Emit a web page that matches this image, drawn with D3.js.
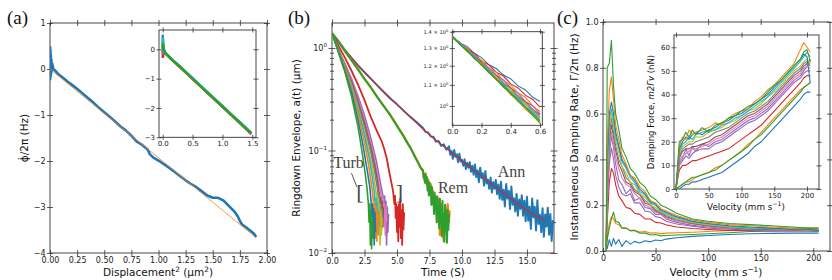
<!DOCTYPE html>
<html>
<head>
<meta charset="utf-8">
<script src="https://cdn.jsdelivr.net/npm/d3@7"></script>
<style>
  body { margin: 0; background: #fff; }
  svg { display: block; }
</style>
</head>
<body>
<script>
// ---------- data ----------

// (a) frequency shift vs displacement^2
const dispBlue = [[0,0.5],[0.002,-0.22],[0.004,0.42],[0.006,-0.15],[0.008,0.3],[0.01,-0.1],[0.013,0.2],[0.016,-0.05],
  [0.02,0.12],[0.03,0.0],[0.05,-0.04],[0.08,-0.12],[0.12,-0.19],[0.16,-0.27],[0.2,-0.34],[0.25,-0.43],[0.3,-0.53],
  [0.35,-0.63],[0.4,-0.73],[0.45,-0.84],[0.5,-0.94],[0.55,-1.04],[0.6,-1.14],[0.65,-1.25],[0.7,-1.34],[0.75,-1.45],
  [0.8,-1.58],[0.85,-1.65],[0.9,-1.75],[0.92,-1.85],[0.95,-1.92],[1.0,-1.99],[1.05,-2.07],[1.1,-2.15],[1.15,-2.24],
  [1.2,-2.33],[1.25,-2.42],[1.3,-2.5],[1.35,-2.57],[1.4,-2.66],[1.45,-2.75],[1.5,-2.8],[1.55,-2.8],[1.6,-2.86],
  [1.65,-2.98],[1.7,-3.1],[1.73,-3.2],[1.75,-3.3],[1.77,-3.38],[1.8,-3.43],[1.85,-3.52],[1.88,-3.58],[1.9,-3.65]];
const dispFit = [[0,0],[1.89,-3.65]];

const insetDispX = [0,0.004,0.008,0.012,0.02,0.04,0.08,0.15,0.3,0.5,0.75,1.0,1.25,1.4,1.48];
const insetDispY = {
  blue:   [0.5,-0.1,0.35,0.1,0.02,-0.1,-0.19,-0.33,-0.6,-0.98,-1.46,-1.93,-2.4,-2.68,-2.84],
  orange: [0.2,-0.2,0.15,-0.05,-0.06,-0.14,-0.22,-0.36,-0.64,-1.02,-1.5,-1.97,-2.44,-2.73,-2.88],
  red:    [-0.3,0.1,-0.25,-0.1,-0.1,-0.15,-0.21,-0.35,-0.63,-1.01,-1.49,-1.96,-2.43,-2.72,-2.9],
  purple: [0.3,-0.15,0.2,0.0,-0.05,-0.12,-0.2,-0.34,-0.62,-1.0,-1.48,-1.95,-2.42,-2.71,-2.86],
  cyan:   [0.4,0.0,0.25,0.05,-0.03,-0.11,-0.19,-0.33,-0.61,-0.99,-1.47,-1.94,-2.41,-2.7,-2.85],
  green:  [0.2,0.0,0.15,0.05,-0.04,-0.12,-0.2,-0.34,-0.62,-1.0,-1.48,-1.95,-2.42,-2.71,-2.85]
};

// (b) ringdown envelopes [time s, amplitude um]
const ringAnn = [[0,1.40],[0.5,1.17],[1,0.955],[1.5,0.80],[2,0.676],[2.5,0.58],[3,0.50],[3.5,0.43],[4,0.37],[4.5,0.32],
  [5,0.282],[5.5,0.245],[6,0.214],[6.5,0.19],[7.0,0.166],[7.2,0.152],[7.4,0.150],[7.6,0.137],[7.8,0.136],[8.0,0.122],
  [8.2,0.124],[8.4,0.111],[8.6,0.115],[8.8,0.102],[9.0,0.110],[9.1,0.091],[9.2,0.099],[9.3,0.083],[9.4,0.101],
  [9.5,0.087],[9.6,0.092],[9.7,0.077],[9.8,0.093],[9.9,0.078],[10.0,0.081],[10.1,0.071],[10.2,0.082],[10.3,0.066],
  [10.4,0.076],[10.5,0.068],[10.6,0.077],[10.7,0.062],[10.8,0.071],[10.9,0.058],[11.0,0.073],[11.1,0.055],[11.2,0.064],
  [11.3,0.049],[11.4,0.068],[11.5,0.054],[11.6,0.060],[11.7,0.0455],[11.8,0.063],[11.9,0.0476],[12.0,0.052],[12.1,0.0423],
  [12.2,0.0545],[12.3,0.0389],[12.4,0.0492],[12.5,0.0423],[12.6,0.0515],[12.7,0.0375],[12.8,0.0466],[12.9,0.0339],
  [13.0,0.0497],[13.1,0.033],[13.2,0.0415],[13.3,0.0284],[13.4,0.047],[13.5,0.034],[13.6,0.0404],[13.7,0.0269],
  [13.8,0.0445],[13.9,0.0296],[14.0,0.0342],[14.1,0.0254],[14.2,0.0377],[14.3,0.0231],[14.4,0.0333],[14.5,0.0269],
  [14.6,0.0366],[14.7,0.0231],[14.8,0.0324],[14.9,0.0204],[15.0,0.0353],[15.1,0.0207],[15.2,0.0283],[15.3,0.0172],
  [15.4,0.034],[15.5,0.0223],[15.6,0.0283],[15.7,0.0166],[15.8,0.0328],[15.9,0.0192],[16.0,0.0236],[16.1,0.016],
  [16.2,0.0274],[16.3,0.0144],[16.4,0.0238],[16.5,0.0181],[16.6,0.0277],[16.7,0.0151],[16.8,0.024],[16.9,0.0131],[17.0,0.0209]];
const ringAnnFit = [[0,1.40],[1,0.955],[2,0.676],[3,0.50],[4,0.37],[5,0.282],[6,0.214],[7,0.162],[8,0.126],[9,0.1],
  [10,0.079],[11,0.063],[12,0.05],[13,0.04],[14,0.032],[15,0.026],[16,0.022],[16.4,0.0205]];
const ringRem = [[0,1.4],[0.5,1.15],[1,0.93],[1.5,0.76],[2,0.62],[2.5,0.50],[3,0.41],[3.5,0.33],[4,0.27],[4.5,0.22],
  [5,0.174],[5.5,0.138],[5.8,0.118],[6.0,0.108],[6.2,0.097],[6.4,0.086],[6.6,0.077],[6.8,0.068],
  [7.00,0.0646],[7.05,0.0543],[7.10,0.0589],[7.15,0.0484],[7.20,0.0575],[7.25,0.0484],[7.30,0.055],[7.35,0.0407],
  [7.40,0.0495],[7.45,0.0363],[7.50,0.049],[7.55,0.0372],[7.60,0.0442],[7.65,0.0295],[7.70,0.0437],[7.75,0.0305],
  [7.80,0.0355],[7.85,0.024],[7.90,0.0385],[7.95,0.0269],[8.00,0.0339],[8.05,0.020],[8.10,0.0355],[8.15,0.0229],
  [8.20,0.0288],[8.25,0.0174],[8.30,0.0339],[8.35,0.0195],[8.40,0.0269],[8.45,0.0145],[8.50,0.0324],[8.55,0.0174],
  [8.60,0.0237],[8.65,0.0129],[8.70,0.0295],[8.75,0.017],[8.80,0.0254],[8.85,0.0126],[8.90,0.0263],[8.95,0.0168],[9.00,0.024]];
const ringRem2 = [[0,1.4],[0.5,1.15],[1,0.93],[1.5,0.76],[2,0.62],[2.5,0.5],[3,0.41],[3.5,0.33],[4,0.27],[4.5,0.22],
  [5,0.175],[5.5,0.14],[6,0.108],[6.5,0.082],[7,0.062],[7.1,0.052],[7.2,0.06],[7.3,0.046],[7.4,0.052],[7.5,0.038],
  [7.6,0.047],[7.7,0.03],[7.8,0.04],[7.9,0.026],[8.0,0.036],[8.1,0.02],[8.2,0.034],[8.3,0.015],[8.4,0.03],[8.5,0.019],
  [8.6,0.013],[8.7,0.028],[8.8,0.016],[8.9,0.03],[9.0,0.02],[9.05,0.026]];
const ringRed = [[0,1.4],[0.5,1.05],[1,0.8],[1.5,0.6],[2,0.44],[2.5,0.31],[3,0.21],[3.5,0.15],[3.8,0.125],[4.0,0.105],
  [4.2,0.085],[4.4,0.062],[4.55,0.05],[4.7,0.04],[4.8,0.03],[4.85,0.036],[4.9,0.022],[4.95,0.03],[5.0,0.016],
  [5.05,0.028],[5.1,0.013],[5.15,0.03],[5.2,0.018],[5.25,0.034],[5.3,0.014],[5.35,0.026],[5.4,0.012],[5.45,0.03],
  [5.5,0.017],[5.55,0.025]];
const ringTurb = [
  ["purple", [[0,1.4],[0.5,0.96],[1,0.7],[1.5,0.5],[2,0.34],[2.5,0.22],[3,0.13],[3.4,0.08],[3.7,0.05],[3.9,0.037],[4.0,0.03],[4.05,0.036],[4.1,0.02],[4.15,0.032],[4.2,0.012],[4.25,0.028],[4.3,0.016],[4.35,0.024]]],
  ["pink",   [[0,1.4],[0.5,0.96],[1,0.69],[1.5,0.49],[2,0.32],[2.5,0.2],[3,0.115],[3.4,0.068],[3.6,0.05],[3.8,0.036],[3.9,0.028],[3.95,0.034],[4.0,0.018],[4.05,0.03],[4.1,0.015],[4.15,0.028],[4.2,0.02]]],
  ["brown",  [[0,1.4],[0.5,0.95],[1,0.67],[1.5,0.47],[2,0.3],[2.5,0.185],[3,0.105],[3.3,0.07],[3.5,0.05],[3.65,0.037],[3.7,0.03],[3.75,0.035],[3.8,0.02],[3.85,0.032],[3.9,0.018],[3.95,0.028]]],
  ["gray",   [[0,1.4],[0.5,0.95],[1,0.66],[1.5,0.45],[2,0.28],[2.5,0.17],[3,0.095],[3.3,0.06],[3.5,0.042],[3.6,0.032],[3.65,0.036],[3.7,0.02],[3.75,0.03],[3.8,0.017],[3.85,0.027],[3.9,0.02]]],
  ["olive",  [[0,1.4],[0.5,0.94],[1,0.65],[1.5,0.43],[2,0.26],[2.5,0.15],[3,0.08],[3.2,0.057],[3.4,0.038],[3.5,0.028],[3.55,0.034],[3.6,0.016],[3.65,0.03],[3.7,0.012],[3.75,0.026],[3.8,0.015],[3.85,0.022]]],
  ["cyan",   [[0,1.4],[0.5,0.94],[1,0.64],[1.5,0.42],[2,0.25],[2.5,0.14],[2.9,0.08],[3.1,0.055],[3.25,0.04],[3.35,0.028],[3.4,0.034],[3.45,0.018],[3.5,0.03],[3.55,0.015],[3.6,0.026],[3.65,0.018]]],
  ["orange", [[0,1.4],[0.5,0.93],[1,0.63],[1.5,0.4],[2,0.23],[2.5,0.12],[2.8,0.075],[3.0,0.05],[3.15,0.036],[3.25,0.024],[3.3,0.03],[3.35,0.014],[3.4,0.028],[3.45,0.013],[3.5,0.026],[3.55,0.016],[3.6,0.024]]],
  ["blue",   [[0,1.4],[0.5,0.92],[1,0.6],[1.5,0.37],[2,0.2],[2.4,0.11],[2.7,0.065],[2.9,0.045],[3.0,0.033],[3.05,0.022],[3.1,0.03],[3.15,0.014],[3.2,0.027],[3.25,0.012],[3.3,0.025],[3.35,0.016]]],
  ["green",  [[0,1.4],[0.5,0.9],[1,0.58],[1.5,0.34],[2,0.17],[2.3,0.1],[2.55,0.06],[2.7,0.042],[2.8,0.03],[2.85,0.02],[2.9,0.03],[2.95,0.012],[3.0,0.026],[3.05,0.011],[3.1,0.022],[3.15,0.014]]]
];

// (b) inset: early part of every ringdown
const ringInsetT = [0,0.05,0.1,0.15,0.2,0.25,0.3,0.35,0.4,0.45,0.5,0.55,0.6];
const ringInsetA = [
  ["blue",   [1.37,1.33,1.31,1.27,1.245,1.205,1.185,1.15,1.13,1.095,1.075,1.04,1.02]],
  ["red",    [1.36,1.335,1.295,1.27,1.225,1.205,1.165,1.145,1.105,1.085,1.05,1.03,0.995]],
  ["orange", [1.375,1.325,1.3,1.255,1.23,1.185,1.165,1.12,1.1,1.06,1.04,1.0,0.975]],
  ["purple", [1.365,1.335,1.29,1.26,1.215,1.19,1.15,1.125,1.085,1.06,1.02,1.0,0.965]],
  ["brown",  [1.37,1.325,1.295,1.25,1.22,1.175,1.15,1.11,1.085,1.045,1.02,0.985,0.96]],
  ["pink",   [1.37,1.33,1.285,1.255,1.21,1.18,1.14,1.112,1.072,1.048,1.01,0.986,0.95]],
  ["gray",   [1.365,1.33,1.285,1.252,1.21,1.178,1.138,1.108,1.07,1.044,1.006,0.982,0.948]],
  ["olive",  [1.37,1.325,1.29,1.245,1.212,1.17,1.14,1.1,1.073,1.035,1.008,0.972,0.945]],
  ["cyan",   [1.37,1.33,1.283,1.25,1.205,1.174,1.13,1.103,1.062,1.036,0.997,0.973,0.937]],
  ["orange", [1.365,1.325,1.28,1.245,1.2,1.165,1.125,1.092,1.052,1.024,0.985,0.96,0.923]],
  ["green",  [1.37,1.322,1.287,1.24,1.207,1.162,1.132,1.088,1.062,1.02,0.995,0.957,0.928]],
  ["green",  [1.37,1.325,1.283,1.246,1.203,1.17,1.128,1.097,1.058,1.03,0.994,0.966,0.935]]
];

// (c) instantaneous damping rate vs velocity
const dampV = [3,4,6,8,10,12,15,18,22,26,30,35,40,45,50,55,60,70,85,100,120,140,160,180,195,205];
const dampRate = [
  ["blue",   [0.04,0.01,0.05,0.02,0.055,0.03,0.05,0.02,0.045,0.03,0.042,0.035,0.045,0.04,0.048,0.045,0.052,0.058,0.064,0.068,0.072,0.075,0.077,0.078,0.078,0.078]],
  ["orange", [0,0.06,0.12,0.15,0.14,0.12,0.115,0.1,0.1,0.09,0.09,0.083,0.085,0.078,0.08,0.076,0.078,0.08,0.082,0.085,0.09,0.093,0.095,0.097,0.1,0.1]],
  ["green",  [0,0.05,0.1,0.14,0.17,0.13,0.125,0.1,0.1,0.088,0.09,0.078,0.078,0.07,0.072,0.066,0.068,0.07,0.072,0.075,0.08,0.085,0.088,0.09,0.092,0.093]],
  ["red",    [0,0.12,0.3,0.36,0.34,0.29,0.24,0.22,0.19,0.185,0.165,0.16,0.14,0.14,0.125,0.122,0.115,0.105,0.098,0.094,0.09,0.089,0.088,0.088,0.088,0.087]],
  ["purple", [0,0.2,0.38,0.45,0.4,0.33,0.28,0.25,0.24,0.25,0.21,0.21,0.175,0.17,0.15,0.145,0.13,0.118,0.108,0.1,0.095,0.092,0.09,0.088,0.088,0.086]],
  ["purple", [0,0.22,0.42,0.5,0.45,0.38,0.31,0.29,0.25,0.27,0.22,0.23,0.19,0.185,0.16,0.16,0.14,0.125,0.112,0.105,0.098,0.094,0.092,0.09,0.09,0.088]],
  ["pink",   [0,0.25,0.45,0.52,0.47,0.41,0.36,0.32,0.29,0.28,0.25,0.23,0.2,0.19,0.17,0.16,0.145,0.13,0.118,0.108,0.1,0.096,0.093,0.09,0.09,0.088]],
  ["brown",  [0,0.28,0.48,0.55,0.5,0.44,0.38,0.35,0.3,0.29,0.26,0.245,0.21,0.2,0.175,0.165,0.15,0.135,0.12,0.11,0.102,0.097,0.094,0.092,0.09,0.088]],
  ["gray",   [0,0.3,0.5,0.58,0.52,0.46,0.4,0.37,0.32,0.3,0.27,0.25,0.22,0.205,0.18,0.17,0.155,0.138,0.122,0.112,0.104,0.098,0.095,0.092,0.09,0.088]],
  ["olive",  [0,0.3,0.55,0.6,0.55,0.48,0.43,0.37,0.34,0.3,0.29,0.25,0.235,0.2,0.19,0.17,0.16,0.14,0.125,0.115,0.105,0.1,0.097,0.094,0.092,0.09]],
  ["cyan",   [0,0.35,0.58,0.62,0.57,0.5,0.45,0.39,0.36,0.32,0.3,0.26,0.245,0.21,0.2,0.175,0.165,0.145,0.128,0.118,0.108,0.1,0.098,0.095,0.093,0.09]],
  ["blue",   [0,0.4,0.6,0.65,0.6,0.52,0.46,0.4,0.37,0.33,0.31,0.27,0.25,0.215,0.205,0.18,0.17,0.15,0.13,0.12,0.11,0.105,0.1,0.095,0.095,0.09]],
  ["orange", [0,0.45,0.7,0.76,0.66,0.55,0.49,0.42,0.38,0.33,0.32,0.28,0.26,0.22,0.21,0.185,0.175,0.155,0.135,0.125,0.115,0.11,0.105,0.1,0.1,0.095]],
  ["green",  [0,0.8,0.82,0.92,0.72,0.6,0.53,0.45,0.41,0.36,0.34,0.3,0.28,0.24,0.225,0.2,0.19,0.165,0.14,0.13,0.12,0.115,0.11,0.105,0.1,0.1]]
];

// (c) inset: damping force vs velocity
const forceV = [0,5,10,15,20,25,30,40,50,60,70,80,90,100,110,120,130,140,150,160,170,180,190,195,200,205];
const forceN = [
  ["blue",   [0,0,1,2,2,3,3,4,5,6,7,9,11,13,15,18,20,23,26,29,32,35,38,40,41,41]],
  ["orange", [0,1,2,3,3,4,5,6,7,9,10,12,14,16,19,21,24,27,30,33,36,39,42,43,44,45]],
  ["green",  [0,1,2,3,4,5,5,6,7,8,10,12,14,16,18,21,23,26,29,32,35,38,41,43,44,45]],
  ["red",    [0,8,10,10,11,12,12,13,14,15,16,17,19,21,23,25,27,30,33,36,39,42,45,47,48,48]],
  ["purple", [0,10,12,14,13,15,16,17,17,19,20,22,24,26,28,29,31,33,36,39,42,45,47,49,50,50]],
  ["purple", [0,11,13,17,14,18,16,19,18,20,21,23,25,27,29,30,32,34,37,40,43,46,48,50,52,54]],
  ["pink",   [0,12,14,15,16,17,17,18,19,21,22,24,26,28,30,31,33,35,38,41,44,47,49,51,52,51]],
  ["brown",  [0,13,16,17,17,18,18,19,20,22,23,25,27,29,31,32,34,36,39,42,45,48,50,52,53,55]],
  ["gray",   [0,14,17,18,19,19,20,21,22,24,25,26,28,30,32,33,35,37,40,43,46,49,51,53,54,52]],
  ["olive",  [0,15,18,19,20,20,22,22,24,25,26,28,29,31,33,34,36,39,41,44,47,50,52,54,55,53]],
  ["cyan",   [0,16,19,20,22,21,23,24,25,25,27,28,30,31,33,35,37,39,42,45,48,51,54,56,58,56]],
  ["blue",   [0,17,20,22,21,23,24,23,25,26,28,29,31,32,34,36,38,40,43,46,49,52,55,57,56,45]],
  ["orange", [0,18,22,21,25,23,24,25,26,28,27,30,32,33,34,37,39,42,44,47,50,53,59,62,60,58]],
  ["green",  [0,20,21,24,22,25,23,26,24,27,28,30,31,33,35,36,38,41,44,46,49,52,55,58,59,54]]
];

// tick values
const dispTicks = [0,0.25,0.5,0.75,1.0,1.25,1.5,1.75,2.0];
const shiftTicks = [-4,-3,-2,-1,0,1];
const dispInsetTicks = [0,0.5,1.0,1.5];
const shiftInsetTicks = [-3,-2,-1,0];
const timeTicks = [0,2.5,5,7.5,10,12.5,15];
const ampTicks = [0.01,0.1,1];
const timeInsetTicks = [0,0.2,0.4,0.6];
const ampInsetTicks = [1.0,1.1,1.2,1.3,1.4];
const velTicks = [0,50,100,150,200];
const rateTicks = [0,0.2,0.4,0.6,0.8,1.0];
const forceTicks = [0,10,20,30,40,50,60];

// ---------- drawing ----------
const W = 832, H = 280;
const tab = {blue:"#1f77b4", orange:"#ff7f0e", green:"#2ca02c", red:"#d62728", purple:"#9467bd",
  brown:"#8c564b", pink:"#e377c2", gray:"#7f7f7f", olive:"#bcbd22", cyan:"#17becf"};
const SANS = "DejaVu Sans", SERIF = "Liberation Serif";

const svg = d3.select("body").append("svg").attr("width", W).attr("height", H);

function drawAxis(g, orient, scale, vals, fmt, len, fs, pos) {
  const make = {bottom: d3.axisBottom, top: d3.axisTop, left: d3.axisLeft, right: d3.axisRight}[orient];
  const ax = make(scale).tickValues(vals).tickFormat(fmt || (() => "")).tickSizeInner(len).tickSizeOuter(0).tickPadding(1.5);
  const horiz = orient === "bottom" || orient === "top";
  const a = g.append("g").attr("transform", horiz ? `translate(0,${pos})` : `translate(${pos},0)`).call(ax);
  a.select(".domain").remove();
  // ticks straddle the spine
  if (horiz) a.selectAll(".tick line").attr("y1", orient === "bottom" ? -len : len);
  else a.selectAll(".tick line").attr("x1", orient === "left" ? len : -len);
  a.selectAll(".tick line").attr("stroke", "#333").attr("stroke-width", 0.8);
  a.selectAll("text").attr("font-size", fs).attr("font-family", SANS).attr("fill", "#222");
  return a;
}

function frame(g, x, y, xt, yt, xf, yf, len, fs) {
  const [xa, xb] = x.range(), [ya, yb] = y.range();
  g.append("rect").attr("x", xa).attr("y", yb).attr("width", xb - xa).attr("height", ya - yb)
    .attr("fill", "none").attr("stroke", "#333").attr("stroke-width", 0.9);
  return {
    bottom: drawAxis(g, "bottom", x, xt, xf, len, fs, ya),
    top: drawAxis(g, "top", x, xt, null, len, fs, yb),
    left: drawAxis(g, "left", y, yt, yf, len, fs, xa),
    right: drawAxis(g, "right", y, yt, null, len, fs, xb)
  };
}

let clipId = 0;
function clipFor(g, x, y) {
  const id = "clip" + (clipId++);
  const [xa, xb] = x.range(), [ya, yb] = y.range();
  g.append("clipPath").attr("id", id).append("rect")
    .attr("x", xa).attr("y", yb).attr("width", xb - xa).attr("height", ya - yb);
  return g.append("g").attr("clip-path", `url(#${id})`);
}

function addLabel(g, x, y, parts, fs, rotate, family) {
  const t = g.append("text").attr("font-size", fs).attr("font-family", family || SANS).attr("fill", "#111")
    .attr("text-anchor", "middle");
  if (rotate) t.attr("transform", `translate(${x},${y}) rotate(-90)`);
  else t.attr("x", x).attr("y", y);
  parts.forEach(p => {
    if (typeof p === "string") { t.append("tspan").text(p); return; }
    const s = t.append("tspan").text(p.t);
    if (p.sup) s.attr("dy", -fs * 0.4).attr("font-size", fs * 0.7);
    if (p.down) s.attr("dy", fs * 0.4);
    if (p.it) s.attr("font-style", "italic");
  });
  return t;
}

function supTicks(axisG, base, expOf, fs) {
  axisG.selectAll(".tick text").each(function (d) {
    const t = d3.select(this);
    t.text(base(d));
    t.append("tspan").attr("dy", -fs * 0.45).attr("font-size", fs * 0.7).text(expOf(d));
  });
}

// ===== panel (a) =====
const ga = svg.append("g");
const xA = d3.scaleLinear().domain([0, 2]).range([50, 267]);
const yA = d3.scaleLinear().domain([-4, 1]).range([253, 23]);
frame(ga, xA, yA, dispTicks, shiftTicks, d3.format(".2f"), d3.format("d"), 3, 8);
const ca = clipFor(ga, xA, yA);
const lineA = d3.line().x(d => xA(d[0])).y(d => yA(d[1]));
ca.append("path").datum(dispBlue).attr("d", lineA).attr("fill", "none").attr("stroke", tab.blue)
  .attr("stroke-width", 2.6).attr("stroke-linejoin", "round");
ca.append("path").datum(dispFit).attr("d", lineA).attr("fill", "none").attr("stroke", tab.orange)
  .attr("stroke-width", 1).attr("opacity", 0.8);

// inset (a)
const xAi = d3.scaleLinear().domain([-0.062, 1.562]).range([159, 256]);
const yAi = d3.scaleLinear().domain([-3, 0.658]).range([137.3, 30]);
ga.append("rect").attr("x", 159).attr("y", 30).attr("width", 97).attr("height", 107.3).attr("fill", "#fff");
frame(ga, xAi, yAi, dispInsetTicks, shiftInsetTicks, d3.format(".1f"), d3.format("d"), 2.5, 7);
const cai = clipFor(ga, xAi, yAi);
const lineAi = d3.line().x((d, i) => xAi(insetDispX[i])).y(d => yAi(d));
["blue", "orange", "red", "purple", "cyan", "green"].forEach(k => {
  cai.append("path").datum(insetDispY[k]).attr("d", lineAi).attr("fill", "none").attr("stroke", tab[k])
    .attr("stroke-width", k === "green" ? 2.4 : 2.2).attr("stroke-linejoin", "round");
});

addLabel(ga, 158, 276, ["Displacement", {t: "2", sup: true}, {t: " (\u03BCm", down: true}, {t: "2", sup: true}, {t: ")", down: true}], 10.5);
addLabel(ga, 28, 138, ["\u03D5\u0307/2\u03C0 (Hz)"], 10.5, true);
ga.append("text").attr("x", 7).attr("y", 24).attr("font-family", SERIF).attr("font-size", 19).attr("fill", "#111").text("(a)");

// ===== panel (b) =====
const gb = svg.append("g");
const xB = d3.scaleLinear().domain([0, 17.08]).range([332, 554]);
const yB = d3.scaleLog().domain([0.01, 1.754]).range([253, 23]);
const axB = frame(gb, xB, yB, timeTicks, ampTicks, d3.format(".1f"), d => "", 3.5, 8);
supTicks(axB.left, () => "10", d => d3.format("d")(Math.round(Math.log10(d))), 8);
const minorB = [];
[0.01, 0.1].forEach(dec => { for (let m = 2; m <= 9; m++) minorB.push(dec * m); });
drawAxis(gb, "left", yB, minorB, null, 2, 8, 332);
drawAxis(gb, "right", yB, minorB, null, 2, 8, 554);
const cb = clipFor(gb, xB, yB);
const lineB = d3.line().x(d => xB(d[0])).y(d => yB(d[1]));
function ring(data, col, w) {
  cb.append("path").datum(data).attr("d", lineB).attr("fill", "none").attr("stroke", col)
    .attr("stroke-width", w).attr("stroke-linejoin", "round");
}
ring(ringAnn, tab.blue, 2.0);
ring(ringAnnFit, tab.red, 1.1);
ring(ringRem2, tab.orange, 2.2);
ring(ringRem, tab.green, 2.0);
ring(ringRed, tab.red, 1.8);
ringTurb.forEach(([k, d]) => ring(d, tab[k], 1.6));

// annotations
const annoB = gb.append("g").attr("font-family", SERIF).attr("fill", "#444");
annoB.append("text").attr("x", xB(0.1)).attr("y", yB(0.0676)).attr("font-size", 16).text("Turb");
annoB.append("text").attr("x", xB(1.87)).attr("y", yB(0.040)).attr("dy", "0.35em").attr("font-size", 22).text("[");
annoB.append("text").attr("x", xB(4.9)).attr("y", yB(0.040)).attr("dy", "0.35em").attr("font-size", 22).text("]");
annoB.append("text").attr("x", xB(8.15)).attr("y", yB(0.0385)).attr("font-size", 16).text("Rem");
annoB.append("text").attr("x", xB(12.75)).attr("y", yB(0.055)).attr("font-size", 16).text("Ann");
gb.append("line").attr("x1", xB(1.5)).attr("y1", yB(0.060)).attr("x2", xB(1.92)).attr("y2", yB(0.044))
  .attr("stroke", "#444").attr("stroke-width", 0.9);

// inset (b)
const xBi = d3.scaleLinear().domain([0, 0.6156]).range([452.3, 542.3]);
const yBi = d3.scaleLog().domain([0.916, 1.4]).range([125.3, 31.7]);
gb.append("rect").attr("x", 452.3).attr("y", 31.7).attr("width", 90).attr("height", 93.6).attr("fill", "#fff");
const axBi = frame(gb, xBi, yBi, timeInsetTicks, ampInsetTicks, d3.format(".1f"), d => "", 2.5, 7);
axBi.left.selectAll(".tick text").attr("font-size", 5.2);
supTicks(axBi.left, d => d === 1 ? "10" : d3.format(".1f")(d) + " \u00D7 10", () => "0", 5.2);
const cbi = clipFor(gb, xBi, yBi);
const lineBi = d3.line().x((d, i) => xBi(ringInsetT[i])).y(d => yBi(d));
ringInsetA.forEach(([k, d]) => {
  cbi.append("path").datum(d).attr("d", lineBi).attr("fill", "none").attr("stroke", tab[k])
    .attr("stroke-width", 1.1);
});

addLabel(gb, 443, 276, ["Time (S)"], 10.5);
addLabel(gb, 300, 138, ["Ringdown Envelope, a(t) (\u03BCm)"], 10.5, true);
gb.append("text").attr("x", 288).attr("y", 24).attr("font-family", SERIF).attr("font-size", 19).attr("fill", "#111").text("(b)");

// ===== panel (c) =====
const gc = svg.append("g");
const xC = d3.scaleLinear().domain([0, 215.9]).range([603, 830]);
const yC = d3.scaleLinear().domain([0, 1]).range([251, 22]);
frame(gc, xC, yC, velTicks, rateTicks, d3.format("d"), d3.format(".1f"), 3, 8);
const cc = clipFor(gc, xC, yC);
const lineC = d3.line().x((d, i) => xC(dampV[i])).y(d => yC(d));
dampRate.forEach(([k, d]) => {
  cc.append("path").datum(d).attr("d", lineC).attr("fill", "none").attr("stroke", tab[k])
    .attr("stroke-width", 1.1).attr("stroke-linejoin", "round");
});

// inset (c)
const xCi = d3.scaleLinear().domain([-3.05, 218.3]).range([674, 819]);
const yCi = d3.scaleLinear().domain([0, 65.2]).range([189, 35]);
gc.append("rect").attr("x", 674).attr("y", 35).attr("width", 145).attr("height", 154).attr("fill", "#fff");
frame(gc, xCi, yCi, velTicks, forceTicks, d3.format("d"), d3.format("d"), 2.5, 7);
const cci = clipFor(gc, xCi, yCi);
const lineCi = d3.line().x((d, i) => xCi(forceV[i])).y(d => yCi(d));
forceN.forEach(([k, d]) => {
  cci.append("path").datum(d).attr("d", lineCi).attr("fill", "none").attr("stroke", tab[k])
    .attr("stroke-width", 1.1).attr("stroke-linejoin", "round");
});
addLabel(gc, 746, 210, ["Velocity (mm s", {t: "\u22121", sup: true}, {t: ")", down: true}], 8.8);
addLabel(gc, 654, 112, ["Damping Force, ", {t: "m2\u0393v", it: true}, " (nN)"], 8.5, true);

addLabel(gc, 716, 276, ["Velocity (mm s", {t: "\u22121", sup: true}, {t: ")", down: true}], 10.5);
addLabel(gc, 578, 137, ["Instantaneous Damping Rate, \u0393/2\u03C0 (Hz)"], 10.5, true);
gc.append("text").attr("x", 557).attr("y", 24).attr("font-family", SERIF).attr("font-size", 19).attr("fill", "#111").text("(c)");
</script>
</body>
</html>
